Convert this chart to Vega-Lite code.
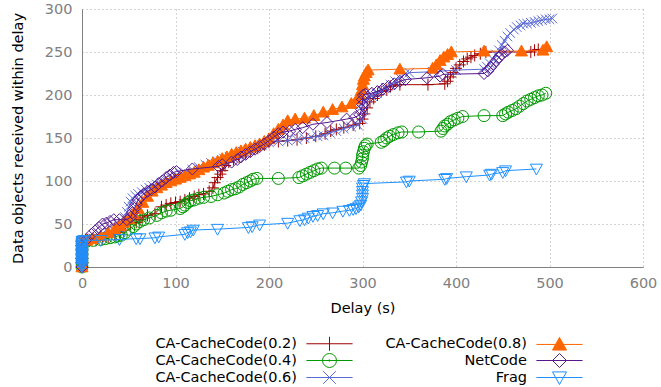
{
"$schema":"https://vega.github.io/schema/vega-lite/v6.json",
"width":561,"height":258,
"autosize":{"type":"none"},
"padding":{"left":82,"top":9,"right":18,"bottom":120},
"config":{"font":"DejaVu Sans","view":{"stroke":null},
 "axis":{"labelFont":"DejaVu Sans","labelFontSize":14.5,"labelColor":"#808080","titleFont":"DejaVu Sans","titleFontSize":14.5,"titleFontWeight":"normal","titleColor":"#000000","gridColor":"#a8a8a8","gridDash":[1,3],"gridWidth":1,"domainColor":"#808080","ticks":false}},
"datasets":{
"a":[{"s":"CA-CacheCode(0.2)","x":0,"y":0},{"s":"CA-CacheCode(0.2)","x":0,"y":5},{"s":"CA-CacheCode(0.2)","x":0,"y":10},{"s":"CA-CacheCode(0.2)","x":0,"y":15},{"s":"CA-CacheCode(0.2)","x":0,"y":20},{"s":"CA-CacheCode(0.2)","x":0,"y":25},{"s":"CA-CacheCode(0.2)","x":0,"y":30},{"s":"CA-CacheCode(0.2)","x":3,"y":30},{"s":"CA-CacheCode(0.2)","x":8,"y":31},{"s":"CA-CacheCode(0.2)","x":15,"y":31},{"s":"CA-CacheCode(0.2)","x":22,"y":33},{"s":"CA-CacheCode(0.2)","x":28,"y":35},{"s":"CA-CacheCode(0.2)","x":35,"y":38},{"s":"CA-CacheCode(0.2)","x":40,"y":40},{"s":"CA-CacheCode(0.2)","x":45,"y":43},{"s":"CA-CacheCode(0.2)","x":52,"y":50},{"s":"CA-CacheCode(0.2)","x":58,"y":52},{"s":"CA-CacheCode(0.2)","x":62,"y":55},{"s":"CA-CacheCode(0.2)","x":65,"y":58},{"s":"CA-CacheCode(0.2)","x":70,"y":60},{"s":"CA-CacheCode(0.2)","x":78,"y":62},{"s":"CA-CacheCode(0.2)","x":85,"y":70},{"s":"CA-CacheCode(0.2)","x":90,"y":72},{"s":"CA-CacheCode(0.2)","x":95,"y":74},{"s":"CA-CacheCode(0.2)","x":100,"y":75},{"s":"CA-CacheCode(0.2)","x":105,"y":76},{"s":"CA-CacheCode(0.2)","x":110,"y":78},{"s":"CA-CacheCode(0.2)","x":115,"y":80},{"s":"CA-CacheCode(0.2)","x":120,"y":82},{"s":"CA-CacheCode(0.2)","x":125,"y":84},{"s":"CA-CacheCode(0.2)","x":130,"y":85},{"s":"CA-CacheCode(0.2)","x":136,"y":88},{"s":"CA-CacheCode(0.2)","x":140,"y":92},{"s":"CA-CacheCode(0.2)","x":142,"y":98},{"s":"CA-CacheCode(0.2)","x":145,"y":104},{"s":"CA-CacheCode(0.2)","x":148,"y":108},{"s":"CA-CacheCode(0.2)","x":150,"y":112},{"s":"CA-CacheCode(0.2)","x":153,"y":118},{"s":"CA-CacheCode(0.2)","x":157,"y":122},{"s":"CA-CacheCode(0.2)","x":162,"y":125},{"s":"CA-CacheCode(0.2)","x":168,"y":128},{"s":"CA-CacheCode(0.2)","x":175,"y":132},{"s":"CA-CacheCode(0.2)","x":180,"y":135},{"s":"CA-CacheCode(0.2)","x":188,"y":138},{"s":"CA-CacheCode(0.2)","x":195,"y":142},{"s":"CA-CacheCode(0.2)","x":200,"y":145},{"s":"CA-CacheCode(0.2)","x":210,"y":146},{"s":"CA-CacheCode(0.2)","x":220,"y":147},{"s":"CA-CacheCode(0.2)","x":230,"y":148},{"s":"CA-CacheCode(0.2)","x":240,"y":150},{"s":"CA-CacheCode(0.2)","x":250,"y":152},{"s":"CA-CacheCode(0.2)","x":260,"y":155},{"s":"CA-CacheCode(0.2)","x":266,"y":158},{"s":"CA-CacheCode(0.2)","x":272,"y":160},{"s":"CA-CacheCode(0.2)","x":280,"y":162},{"s":"CA-CacheCode(0.2)","x":290,"y":165},{"s":"CA-CacheCode(0.2)","x":297,"y":167},{"s":"CA-CacheCode(0.2)","x":300,"y":172},{"s":"CA-CacheCode(0.2)","x":302,"y":178},{"s":"CA-CacheCode(0.2)","x":305,"y":185},{"s":"CA-CacheCode(0.2)","x":308,"y":192},{"s":"CA-CacheCode(0.2)","x":312,"y":196},{"s":"CA-CacheCode(0.2)","x":316,"y":200},{"s":"CA-CacheCode(0.2)","x":320,"y":204},{"s":"CA-CacheCode(0.2)","x":326,"y":206},{"s":"CA-CacheCode(0.2)","x":330,"y":210},{"s":"CA-CacheCode(0.2)","x":340,"y":212},{"s":"CA-CacheCode(0.2)","x":370,"y":212},{"s":"CA-CacheCode(0.2)","x":388,"y":213},{"s":"CA-CacheCode(0.2)","x":391,"y":216},{"s":"CA-CacheCode(0.2)","x":394,"y":221},{"s":"CA-CacheCode(0.2)","x":397,"y":226},{"s":"CA-CacheCode(0.2)","x":400,"y":231},{"s":"CA-CacheCode(0.2)","x":404,"y":235},{"s":"CA-CacheCode(0.2)","x":408,"y":239},{"s":"CA-CacheCode(0.2)","x":412,"y":242},{"s":"CA-CacheCode(0.2)","x":416,"y":244},{"s":"CA-CacheCode(0.2)","x":420,"y":246},{"s":"CA-CacheCode(0.2)","x":426,"y":248},{"s":"CA-CacheCode(0.2)","x":432,"y":250},{"s":"CA-CacheCode(0.2)","x":480,"y":250},{"s":"CA-CacheCode(0.2)","x":484,"y":252},{"s":"CA-CacheCode(0.2)","x":488,"y":253}],
"b":[{"s":"CA-CacheCode(0.4)","x":0,"y":0},{"s":"CA-CacheCode(0.4)","x":0,"y":5},{"s":"CA-CacheCode(0.4)","x":0,"y":10},{"s":"CA-CacheCode(0.4)","x":0,"y":15},{"s":"CA-CacheCode(0.4)","x":0,"y":20},{"s":"CA-CacheCode(0.4)","x":0,"y":25},{"s":"CA-CacheCode(0.4)","x":0,"y":30},{"s":"CA-CacheCode(0.4)","x":5,"y":30},{"s":"CA-CacheCode(0.4)","x":12,"y":31},{"s":"CA-CacheCode(0.4)","x":20,"y":32},{"s":"CA-CacheCode(0.4)","x":25,"y":33},{"s":"CA-CacheCode(0.4)","x":30,"y":34},{"s":"CA-CacheCode(0.4)","x":35,"y":35},{"s":"CA-CacheCode(0.4)","x":38,"y":36},{"s":"CA-CacheCode(0.4)","x":42,"y":37},{"s":"CA-CacheCode(0.4)","x":46,"y":40},{"s":"CA-CacheCode(0.4)","x":50,"y":44},{"s":"CA-CacheCode(0.4)","x":55,"y":47},{"s":"CA-CacheCode(0.4)","x":58,"y":50},{"s":"CA-CacheCode(0.4)","x":62,"y":53},{"s":"CA-CacheCode(0.4)","x":66,"y":55},{"s":"CA-CacheCode(0.4)","x":72,"y":57},{"s":"CA-CacheCode(0.4)","x":80,"y":60},{"s":"CA-CacheCode(0.4)","x":85,"y":63},{"s":"CA-CacheCode(0.4)","x":90,"y":65},{"s":"CA-CacheCode(0.4)","x":95,"y":66},{"s":"CA-CacheCode(0.4)","x":105,"y":68},{"s":"CA-CacheCode(0.4)","x":108,"y":70},{"s":"CA-CacheCode(0.4)","x":110,"y":72},{"s":"CA-CacheCode(0.4)","x":113,"y":75},{"s":"CA-CacheCode(0.4)","x":116,"y":77},{"s":"CA-CacheCode(0.4)","x":120,"y":78},{"s":"CA-CacheCode(0.4)","x":125,"y":80},{"s":"CA-CacheCode(0.4)","x":130,"y":81},{"s":"CA-CacheCode(0.4)","x":138,"y":82},{"s":"CA-CacheCode(0.4)","x":145,"y":84},{"s":"CA-CacheCode(0.4)","x":152,"y":86},{"s":"CA-CacheCode(0.4)","x":156,"y":88},{"s":"CA-CacheCode(0.4)","x":160,"y":90},{"s":"CA-CacheCode(0.4)","x":164,"y":91},{"s":"CA-CacheCode(0.4)","x":168,"y":93},{"s":"CA-CacheCode(0.4)","x":172,"y":96},{"s":"CA-CacheCode(0.4)","x":176,"y":98},{"s":"CA-CacheCode(0.4)","x":180,"y":100},{"s":"CA-CacheCode(0.4)","x":183,"y":102},{"s":"CA-CacheCode(0.4)","x":187,"y":103},{"s":"CA-CacheCode(0.4)","x":210,"y":103},{"s":"CA-CacheCode(0.4)","x":232,"y":104},{"s":"CA-CacheCode(0.4)","x":236,"y":106},{"s":"CA-CacheCode(0.4)","x":240,"y":108},{"s":"CA-CacheCode(0.4)","x":244,"y":110},{"s":"CA-CacheCode(0.4)","x":248,"y":112},{"s":"CA-CacheCode(0.4)","x":252,"y":114},{"s":"CA-CacheCode(0.4)","x":256,"y":115},{"s":"CA-CacheCode(0.4)","x":270,"y":115},{"s":"CA-CacheCode(0.4)","x":282,"y":115},{"s":"CA-CacheCode(0.4)","x":296,"y":115},{"s":"CA-CacheCode(0.4)","x":298,"y":118},{"s":"CA-CacheCode(0.4)","x":299,"y":122},{"s":"CA-CacheCode(0.4)","x":300,"y":126},{"s":"CA-CacheCode(0.4)","x":300,"y":130},{"s":"CA-CacheCode(0.4)","x":301,"y":134},{"s":"CA-CacheCode(0.4)","x":302,"y":138},{"s":"CA-CacheCode(0.4)","x":303,"y":141},{"s":"CA-CacheCode(0.4)","x":305,"y":143},{"s":"CA-CacheCode(0.4)","x":320,"y":145},{"s":"CA-CacheCode(0.4)","x":323,"y":147},{"s":"CA-CacheCode(0.4)","x":326,"y":150},{"s":"CA-CacheCode(0.4)","x":329,"y":152},{"s":"CA-CacheCode(0.4)","x":333,"y":154},{"s":"CA-CacheCode(0.4)","x":338,"y":156},{"s":"CA-CacheCode(0.4)","x":342,"y":157},{"s":"CA-CacheCode(0.4)","x":360,"y":157},{"s":"CA-CacheCode(0.4)","x":384,"y":158},{"s":"CA-CacheCode(0.4)","x":386,"y":161},{"s":"CA-CacheCode(0.4)","x":388,"y":164},{"s":"CA-CacheCode(0.4)","x":391,"y":166},{"s":"CA-CacheCode(0.4)","x":394,"y":169},{"s":"CA-CacheCode(0.4)","x":398,"y":171},{"s":"CA-CacheCode(0.4)","x":402,"y":173},{"s":"CA-CacheCode(0.4)","x":407,"y":175},{"s":"CA-CacheCode(0.4)","x":430,"y":176},{"s":"CA-CacheCode(0.4)","x":450,"y":176},{"s":"CA-CacheCode(0.4)","x":453,"y":178},{"s":"CA-CacheCode(0.4)","x":456,"y":180},{"s":"CA-CacheCode(0.4)","x":460,"y":182},{"s":"CA-CacheCode(0.4)","x":464,"y":184},{"s":"CA-CacheCode(0.4)","x":468,"y":187},{"s":"CA-CacheCode(0.4)","x":472,"y":190},{"s":"CA-CacheCode(0.4)","x":476,"y":193},{"s":"CA-CacheCode(0.4)","x":480,"y":195},{"s":"CA-CacheCode(0.4)","x":484,"y":197},{"s":"CA-CacheCode(0.4)","x":488,"y":199},{"s":"CA-CacheCode(0.4)","x":492,"y":200},{"s":"CA-CacheCode(0.4)","x":496,"y":202}],
"c":[{"s":"CA-CacheCode(0.6)","x":0,"y":0},{"s":"CA-CacheCode(0.6)","x":0,"y":5},{"s":"CA-CacheCode(0.6)","x":0,"y":10},{"s":"CA-CacheCode(0.6)","x":0,"y":15},{"s":"CA-CacheCode(0.6)","x":0,"y":20},{"s":"CA-CacheCode(0.6)","x":0,"y":25},{"s":"CA-CacheCode(0.6)","x":0,"y":30},{"s":"CA-CacheCode(0.6)","x":5,"y":31},{"s":"CA-CacheCode(0.6)","x":12,"y":33},{"s":"CA-CacheCode(0.6)","x":20,"y":37},{"s":"CA-CacheCode(0.6)","x":28,"y":40},{"s":"CA-CacheCode(0.6)","x":35,"y":42},{"s":"CA-CacheCode(0.6)","x":40,"y":45},{"s":"CA-CacheCode(0.6)","x":44,"y":52},{"s":"CA-CacheCode(0.6)","x":46,"y":58},{"s":"CA-CacheCode(0.6)","x":48,"y":64},{"s":"CA-CacheCode(0.6)","x":50,"y":70},{"s":"CA-CacheCode(0.6)","x":52,"y":76},{"s":"CA-CacheCode(0.6)","x":54,"y":80},{"s":"CA-CacheCode(0.6)","x":57,"y":83},{"s":"CA-CacheCode(0.6)","x":60,"y":85},{"s":"CA-CacheCode(0.6)","x":64,"y":87},{"s":"CA-CacheCode(0.6)","x":68,"y":90},{"s":"CA-CacheCode(0.6)","x":72,"y":92},{"s":"CA-CacheCode(0.6)","x":76,"y":94},{"s":"CA-CacheCode(0.6)","x":80,"y":96},{"s":"CA-CacheCode(0.6)","x":85,"y":98},{"s":"CA-CacheCode(0.6)","x":90,"y":100},{"s":"CA-CacheCode(0.6)","x":95,"y":103},{"s":"CA-CacheCode(0.6)","x":100,"y":106},{"s":"CA-CacheCode(0.6)","x":105,"y":108},{"s":"CA-CacheCode(0.6)","x":110,"y":110},{"s":"CA-CacheCode(0.6)","x":118,"y":113},{"s":"CA-CacheCode(0.6)","x":125,"y":116},{"s":"CA-CacheCode(0.6)","x":132,"y":119},{"s":"CA-CacheCode(0.6)","x":138,"y":121},{"s":"CA-CacheCode(0.6)","x":145,"y":123},{"s":"CA-CacheCode(0.6)","x":152,"y":126},{"s":"CA-CacheCode(0.6)","x":158,"y":128},{"s":"CA-CacheCode(0.6)","x":165,"y":131},{"s":"CA-CacheCode(0.6)","x":172,"y":134},{"s":"CA-CacheCode(0.6)","x":178,"y":136},{"s":"CA-CacheCode(0.6)","x":185,"y":139},{"s":"CA-CacheCode(0.6)","x":192,"y":142},{"s":"CA-CacheCode(0.6)","x":200,"y":145},{"s":"CA-CacheCode(0.6)","x":210,"y":146},{"s":"CA-CacheCode(0.6)","x":220,"y":147},{"s":"CA-CacheCode(0.6)","x":230,"y":148},{"s":"CA-CacheCode(0.6)","x":238,"y":150},{"s":"CA-CacheCode(0.6)","x":245,"y":151},{"s":"CA-CacheCode(0.6)","x":252,"y":152},{"s":"CA-CacheCode(0.6)","x":258,"y":153},{"s":"CA-CacheCode(0.6)","x":265,"y":156},{"s":"CA-CacheCode(0.6)","x":272,"y":158},{"s":"CA-CacheCode(0.6)","x":280,"y":161},{"s":"CA-CacheCode(0.6)","x":288,"y":163},{"s":"CA-CacheCode(0.6)","x":295,"y":165},{"s":"CA-CacheCode(0.6)","x":300,"y":172},{"s":"CA-CacheCode(0.6)","x":301,"y":182},{"s":"CA-CacheCode(0.6)","x":302,"y":192},{"s":"CA-CacheCode(0.6)","x":305,"y":196},{"s":"CA-CacheCode(0.6)","x":310,"y":199},{"s":"CA-CacheCode(0.6)","x":315,"y":202},{"s":"CA-CacheCode(0.6)","x":320,"y":205},{"s":"CA-CacheCode(0.6)","x":325,"y":208},{"s":"CA-CacheCode(0.6)","x":330,"y":212},{"s":"CA-CacheCode(0.6)","x":335,"y":216},{"s":"CA-CacheCode(0.6)","x":340,"y":220},{"s":"CA-CacheCode(0.6)","x":345,"y":224},{"s":"CA-CacheCode(0.6)","x":350,"y":226},{"s":"CA-CacheCode(0.6)","x":375,"y":227},{"s":"CA-CacheCode(0.6)","x":400,"y":229},{"s":"CA-CacheCode(0.6)","x":430,"y":230},{"s":"CA-CacheCode(0.6)","x":433,"y":233},{"s":"CA-CacheCode(0.6)","x":436,"y":237},{"s":"CA-CacheCode(0.6)","x":440,"y":241},{"s":"CA-CacheCode(0.6)","x":443,"y":247},{"s":"CA-CacheCode(0.6)","x":446,"y":252},{"s":"CA-CacheCode(0.6)","x":449,"y":258},{"s":"CA-CacheCode(0.6)","x":452,"y":263},{"s":"CA-CacheCode(0.6)","x":455,"y":268},{"s":"CA-CacheCode(0.6)","x":458,"y":272},{"s":"CA-CacheCode(0.6)","x":462,"y":276},{"s":"CA-CacheCode(0.6)","x":465,"y":279},{"s":"CA-CacheCode(0.6)","x":469,"y":281},{"s":"CA-CacheCode(0.6)","x":472,"y":283},{"s":"CA-CacheCode(0.6)","x":476,"y":283},{"s":"CA-CacheCode(0.6)","x":480,"y":284},{"s":"CA-CacheCode(0.6)","x":484,"y":285},{"s":"CA-CacheCode(0.6)","x":488,"y":286},{"s":"CA-CacheCode(0.6)","x":492,"y":287},{"s":"CA-CacheCode(0.6)","x":496,"y":288},{"s":"CA-CacheCode(0.6)","x":500,"y":288},{"s":"CA-CacheCode(0.6)","x":503,"y":289}],
"d":[{"s":"CA-CacheCode(0.8)","x":0,"y":0},{"s":"CA-CacheCode(0.8)","x":0,"y":5},{"s":"CA-CacheCode(0.8)","x":0,"y":10},{"s":"CA-CacheCode(0.8)","x":0,"y":15},{"s":"CA-CacheCode(0.8)","x":0,"y":20},{"s":"CA-CacheCode(0.8)","x":0,"y":25},{"s":"CA-CacheCode(0.8)","x":0,"y":30},{"s":"CA-CacheCode(0.8)","x":5,"y":31},{"s":"CA-CacheCode(0.8)","x":12,"y":33},{"s":"CA-CacheCode(0.8)","x":20,"y":36},{"s":"CA-CacheCode(0.8)","x":28,"y":40},{"s":"CA-CacheCode(0.8)","x":35,"y":44},{"s":"CA-CacheCode(0.8)","x":40,"y":48},{"s":"CA-CacheCode(0.8)","x":45,"y":52},{"s":"CA-CacheCode(0.8)","x":50,"y":56},{"s":"CA-CacheCode(0.8)","x":55,"y":62},{"s":"CA-CacheCode(0.8)","x":60,"y":68},{"s":"CA-CacheCode(0.8)","x":65,"y":75},{"s":"CA-CacheCode(0.8)","x":70,"y":82},{"s":"CA-CacheCode(0.8)","x":75,"y":88},{"s":"CA-CacheCode(0.8)","x":80,"y":92},{"s":"CA-CacheCode(0.8)","x":85,"y":95},{"s":"CA-CacheCode(0.8)","x":90,"y":98},{"s":"CA-CacheCode(0.8)","x":95,"y":100},{"s":"CA-CacheCode(0.8)","x":100,"y":102},{"s":"CA-CacheCode(0.8)","x":105,"y":104},{"s":"CA-CacheCode(0.8)","x":110,"y":106},{"s":"CA-CacheCode(0.8)","x":115,"y":108},{"s":"CA-CacheCode(0.8)","x":120,"y":110},{"s":"CA-CacheCode(0.8)","x":125,"y":113},{"s":"CA-CacheCode(0.8)","x":130,"y":116},{"s":"CA-CacheCode(0.8)","x":135,"y":118},{"s":"CA-CacheCode(0.8)","x":140,"y":121},{"s":"CA-CacheCode(0.8)","x":145,"y":123},{"s":"CA-CacheCode(0.8)","x":150,"y":126},{"s":"CA-CacheCode(0.8)","x":155,"y":128},{"s":"CA-CacheCode(0.8)","x":160,"y":131},{"s":"CA-CacheCode(0.8)","x":165,"y":133},{"s":"CA-CacheCode(0.8)","x":170,"y":135},{"s":"CA-CacheCode(0.8)","x":175,"y":137},{"s":"CA-CacheCode(0.8)","x":180,"y":139},{"s":"CA-CacheCode(0.8)","x":185,"y":141},{"s":"CA-CacheCode(0.8)","x":190,"y":143},{"s":"CA-CacheCode(0.8)","x":195,"y":146},{"s":"CA-CacheCode(0.8)","x":200,"y":149},{"s":"CA-CacheCode(0.8)","x":205,"y":155},{"s":"CA-CacheCode(0.8)","x":210,"y":160},{"s":"CA-CacheCode(0.8)","x":215,"y":165},{"s":"CA-CacheCode(0.8)","x":220,"y":170},{"s":"CA-CacheCode(0.8)","x":228,"y":172},{"s":"CA-CacheCode(0.8)","x":238,"y":173},{"s":"CA-CacheCode(0.8)","x":248,"y":176},{"s":"CA-CacheCode(0.8)","x":258,"y":180},{"s":"CA-CacheCode(0.8)","x":268,"y":183},{"s":"CA-CacheCode(0.8)","x":278,"y":186},{"s":"CA-CacheCode(0.8)","x":288,"y":190},{"s":"CA-CacheCode(0.8)","x":294,"y":195},{"s":"CA-CacheCode(0.8)","x":297,"y":200},{"s":"CA-CacheCode(0.8)","x":299,"y":206},{"s":"CA-CacheCode(0.8)","x":300,"y":212},{"s":"CA-CacheCode(0.8)","x":301,"y":218},{"s":"CA-CacheCode(0.8)","x":302,"y":222},{"s":"CA-CacheCode(0.8)","x":304,"y":226},{"s":"CA-CacheCode(0.8)","x":306,"y":229},{"s":"CA-CacheCode(0.8)","x":340,"y":230},{"s":"CA-CacheCode(0.8)","x":375,"y":231},{"s":"CA-CacheCode(0.8)","x":379,"y":235},{"s":"CA-CacheCode(0.8)","x":383,"y":240},{"s":"CA-CacheCode(0.8)","x":387,"y":244},{"s":"CA-CacheCode(0.8)","x":391,"y":247},{"s":"CA-CacheCode(0.8)","x":395,"y":250},{"s":"CA-CacheCode(0.8)","x":430,"y":251},{"s":"CA-CacheCode(0.8)","x":470,"y":251},{"s":"CA-CacheCode(0.8)","x":493,"y":252},{"s":"CA-CacheCode(0.8)","x":497,"y":256}],
"e":[{"s":"NetCode","x":0,"y":0},{"s":"NetCode","x":0,"y":5},{"s":"NetCode","x":0,"y":10},{"s":"NetCode","x":0,"y":15},{"s":"NetCode","x":0,"y":20},{"s":"NetCode","x":0,"y":25},{"s":"NetCode","x":0,"y":30},{"s":"NetCode","x":5,"y":32},{"s":"NetCode","x":10,"y":38},{"s":"NetCode","x":14,"y":42},{"s":"NetCode","x":18,"y":46},{"s":"NetCode","x":22,"y":50},{"s":"NetCode","x":26,"y":51},{"s":"NetCode","x":30,"y":53},{"s":"NetCode","x":34,"y":55},{"s":"NetCode","x":40,"y":55},{"s":"NetCode","x":48,"y":55},{"s":"NetCode","x":52,"y":58},{"s":"NetCode","x":54,"y":63},{"s":"NetCode","x":56,"y":68},{"s":"NetCode","x":58,"y":73},{"s":"NetCode","x":60,"y":78},{"s":"NetCode","x":63,"y":82},{"s":"NetCode","x":66,"y":85},{"s":"NetCode","x":70,"y":88},{"s":"NetCode","x":74,"y":90},{"s":"NetCode","x":78,"y":93},{"s":"NetCode","x":82,"y":97},{"s":"NetCode","x":86,"y":100},{"s":"NetCode","x":90,"y":104},{"s":"NetCode","x":94,"y":107},{"s":"NetCode","x":98,"y":110},{"s":"NetCode","x":101,"y":111},{"s":"NetCode","x":118,"y":114},{"s":"NetCode","x":146,"y":117},{"s":"NetCode","x":150,"y":119},{"s":"NetCode","x":160,"y":122},{"s":"NetCode","x":166,"y":125},{"s":"NetCode","x":170,"y":128},{"s":"NetCode","x":175,"y":131},{"s":"NetCode","x":180,"y":134},{"s":"NetCode","x":185,"y":137},{"s":"NetCode","x":190,"y":140},{"s":"NetCode","x":195,"y":143},{"s":"NetCode","x":200,"y":147},{"s":"NetCode","x":205,"y":151},{"s":"NetCode","x":210,"y":155},{"s":"NetCode","x":215,"y":157},{"s":"NetCode","x":222,"y":158},{"s":"NetCode","x":228,"y":160},{"s":"NetCode","x":236,"y":162},{"s":"NetCode","x":247,"y":166},{"s":"NetCode","x":262,"y":168},{"s":"NetCode","x":283,"y":172},{"s":"NetCode","x":292,"y":174},{"s":"NetCode","x":297,"y":177},{"s":"NetCode","x":299,"y":183},{"s":"NetCode","x":300,"y":189},{"s":"NetCode","x":300,"y":195},{"s":"NetCode","x":301,"y":200},{"s":"NetCode","x":303,"y":201},{"s":"NetCode","x":310,"y":202},{"s":"NetCode","x":316,"y":204},{"s":"NetCode","x":322,"y":207},{"s":"NetCode","x":328,"y":210},{"s":"NetCode","x":334,"y":213},{"s":"NetCode","x":340,"y":216},{"s":"NetCode","x":346,"y":218},{"s":"NetCode","x":369,"y":220},{"s":"NetCode","x":383,"y":222},{"s":"NetCode","x":386,"y":224},{"s":"NetCode","x":430,"y":225},{"s":"NetCode","x":434,"y":228},{"s":"NetCode","x":437,"y":232},{"s":"NetCode","x":440,"y":236},{"s":"NetCode","x":443,"y":240},{"s":"NetCode","x":446,"y":244},{"s":"NetCode","x":449,"y":247},{"s":"NetCode","x":452,"y":250},{"s":"NetCode","x":455,"y":252}],
"f":[{"s":"Frag","x":0,"y":0},{"s":"Frag","x":0,"y":2},{"s":"Frag","x":0,"y":4},{"s":"Frag","x":0,"y":6},{"s":"Frag","x":0,"y":8},{"s":"Frag","x":0,"y":10},{"s":"Frag","x":0,"y":12},{"s":"Frag","x":0,"y":14},{"s":"Frag","x":0,"y":16},{"s":"Frag","x":0,"y":18},{"s":"Frag","x":0,"y":20},{"s":"Frag","x":0,"y":22},{"s":"Frag","x":0,"y":24},{"s":"Frag","x":0,"y":26},{"s":"Frag","x":0,"y":28},{"s":"Frag","x":0,"y":30},{"s":"Frag","x":2,"y":31},{"s":"Frag","x":20,"y":31},{"s":"Frag","x":40,"y":32},{"s":"Frag","x":58,"y":33},{"s":"Frag","x":62,"y":33},{"s":"Frag","x":78,"y":34},{"s":"Frag","x":82,"y":35},{"s":"Frag","x":110,"y":38},{"s":"Frag","x":113,"y":40},{"s":"Frag","x":116,"y":41},{"s":"Frag","x":119,"y":43},{"s":"Frag","x":145,"y":44},{"s":"Frag","x":178,"y":46},{"s":"Frag","x":182,"y":47},{"s":"Frag","x":190,"y":49},{"s":"Frag","x":220,"y":51},{"s":"Frag","x":233,"y":54},{"s":"Frag","x":238,"y":55},{"s":"Frag","x":242,"y":57},{"s":"Frag","x":247,"y":59},{"s":"Frag","x":252,"y":60},{"s":"Frag","x":258,"y":62},{"s":"Frag","x":268,"y":63},{"s":"Frag","x":279,"y":65},{"s":"Frag","x":286,"y":66},{"s":"Frag","x":290,"y":67},{"s":"Frag","x":293,"y":68},{"s":"Frag","x":296,"y":70},{"s":"Frag","x":298,"y":72},{"s":"Frag","x":299,"y":76},{"s":"Frag","x":300,"y":80},{"s":"Frag","x":300,"y":84},{"s":"Frag","x":300,"y":88},{"s":"Frag","x":300,"y":92},{"s":"Frag","x":301,"y":95},{"s":"Frag","x":302,"y":97},{"s":"Frag","x":347,"y":99},{"s":"Frag","x":350,"y":100},{"s":"Frag","x":388,"y":102},{"s":"Frag","x":390,"y":103},{"s":"Frag","x":411,"y":105},{"s":"Frag","x":436,"y":107},{"s":"Frag","x":438,"y":108},{"s":"Frag","x":450,"y":110},{"s":"Frag","x":453,"y":112},{"s":"Frag","x":486,"y":114}]
},
"encoding":{
 "x":{"field":"x","type":"quantitative","scale":{"domain":[0,600],"nice":false,"zero":false},"axis":{"title":"Delay (s)","values":[0,100,200,300,400,500,600],"labelPadding":9,"titlePadding":12,"labelFlush":false,"grid":true}},
 "y":{"field":"y","type":"quantitative","scale":{"domain":[0,300],"nice":false},"axis":{"title":"Data objects received within delay","values":[0,50,100,150,200,250,300],"labelPadding":10,"titlePadding":19,"grid":true}},
 "stroke":{"field":"s","type":"nominal",
   "scale":{"domain":["CA-CacheCode(0.2)","CA-CacheCode(0.4)","CA-CacheCode(0.6)","CA-CacheCode(0.8)","NetCode","Frag"],"range":["#a00000","#009900","#5a6bd8","#ff6600","#55188f","#1e90ff"]},
   "legend":{"title":null,"orient":"none","legendX":240,"legendY":327,"columns":2,"columnPadding":20,"rowPadding":-6,"padding":0,"symbolSize":196,"symbolStrokeWidth":1,"labelAlign":"right","labelOffset":-40,"labelFont":"DejaVu Sans","labelFontSize":14.5,"labelColor":"#000000","labelLimit":0,
     "encode":{"symbols":{"update":{
       "shape":{"signal":"datum.value === 'CA-CacheCode(0.2)' ? 'M-26,0M-3.3,0L3.3,0M0,-1L0,1' : datum.value === 'CA-CacheCode(0.4)' ? 'M-26,0M-3.3,0L3.3,0M1,0L0.924,0.383L0.707,0.707L0.383,0.924L0,1L-0.383,0.924L-0.707,0.707L-0.924,0.383L-1,0L-0.924,-0.383L-0.707,-0.707L-0.383,-0.924L0,-1L0.383,-0.924L0.707,-0.707L0.924,-0.383ZM0.12,0L0,0.12L-0.12,0L0,-0.12Z' : datum.value === 'CA-CacheCode(0.6)' ? 'M-26,0M-3.3,0L3.3,0M-0.9,-0.9L0.9,0.9M-0.9,0.9L0.9,-0.9' : datum.value === 'CA-CacheCode(0.8)' ? 'M-26,0M-3.3,0L3.3,0M0,-1L1,0.8L-1,0.8Z' : datum.value === 'NetCode' ? 'M-26,0M-3.3,0L3.3,0M0,-1L1,0L0,1L-1,0Z' : 'M-26,0M-3.3,0L3.3,0M0,1L1,-0.8L-1,-0.8Z'"},
       "fill":{"signal":"datum.value === 'CA-CacheCode(0.8)' ? '#ff6600' : 'transparent'"},
       "stroke":{"scale":"stroke","field":"value"},
       "size":{"value":196}
     }}}}}
},
"layer":[
 {"data":{"name":"a"},"layer":[{"mark":{"type":"line","strokeWidth":1}},{"mark":{"type":"point","strokeWidth":1,"size":144,"opacity":1},"encoding":{"shape":{"field":"s","type":"nominal","legend":null,"scale":{"domain":["Frag","NetCode","CA-CacheCode(0.8)","CA-CacheCode(0.6)","CA-CacheCode(0.4)","CA-CacheCode(0.2)"],"range":["M0,1L1,-0.8L-1,-0.8Z","M0,-1L1,0L0,1L-1,0Z","M0,-1L1,0.8L-1,0.8Z","M-0.8,-0.8L0.8,0.8M-0.8,0.8L0.8,-0.8","circle","M-1,0L1,0M0,-1L0,1"]}},"fill":{"field":"s","type":"nominal","legend":null,"scale":{"domain":["Frag","NetCode","CA-CacheCode(0.8)","CA-CacheCode(0.6)","CA-CacheCode(0.4)","CA-CacheCode(0.2)"],"range":["transparent","transparent","#ff6600","transparent","transparent","transparent"]}}}}]},
 {"data":{"name":"b"},"layer":[{"mark":{"type":"line","strokeWidth":1}},{"mark":{"type":"point","strokeWidth":1,"size":144,"opacity":1},"encoding":{"shape":{"field":"s","type":"nominal","legend":null},"fill":{"field":"s","type":"nominal","legend":null}}}]},
 {"data":{"name":"c"},"layer":[{"mark":{"type":"line","strokeWidth":1}},{"mark":{"type":"point","strokeWidth":1,"size":144,"opacity":1},"encoding":{"shape":{"field":"s","type":"nominal","legend":null},"fill":{"field":"s","type":"nominal","legend":null}}}]},
 {"data":{"name":"d"},"layer":[{"mark":{"type":"line","strokeWidth":1}},{"mark":{"type":"point","strokeWidth":1,"size":144,"opacity":1},"encoding":{"shape":{"field":"s","type":"nominal","legend":null},"fill":{"field":"s","type":"nominal","legend":null}}}]},
 {"data":{"name":"e"},"layer":[{"mark":{"type":"line","strokeWidth":1}},{"mark":{"type":"point","strokeWidth":1,"size":144,"opacity":1},"encoding":{"shape":{"field":"s","type":"nominal","legend":null},"fill":{"field":"s","type":"nominal","legend":null}}}]},
 {"data":{"name":"f"},"layer":[{"mark":{"type":"line","strokeWidth":1}},{"mark":{"type":"point","strokeWidth":1,"size":144,"opacity":1},"encoding":{"shape":{"field":"s","type":"nominal","legend":null},"fill":{"field":"s","type":"nominal","legend":null}}}]}
]
}
